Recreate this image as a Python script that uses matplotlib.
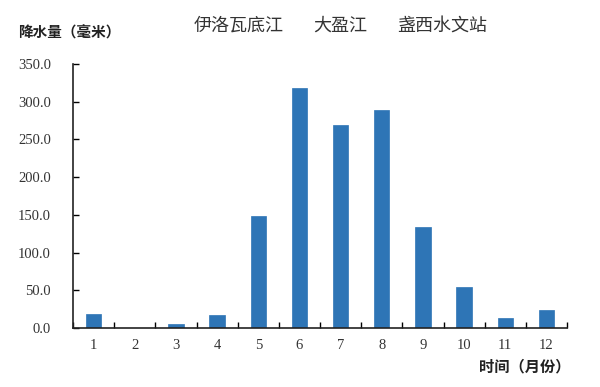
import matplotlib
matplotlib.use("Agg")
import matplotlib.pyplot as plt
import numpy as np

months = ["1", "2", "3", "4", "5", "6", "7", "8", "9", "10", "11", "12"]
rain = [19, 0, 5, 17, 149, 318, 269, 289, 134, 54, 13, 24]
yticks = [0, 50, 100, 150, 200, 250, 300, 350]
title_parts = ["伊洛瓦底江", "大盈江", "盏西水文站"]

cjk = ['Noto Sans CJK SC', 'DejaVu Sans']
serif = 'Liberation Serif'

fig = plt.figure(figsize=(6, 3.87), dpi=100)
ax = fig.add_axes([0.1217, 0.1525, 0.8233, 0.6821])
x = np.arange(len(months))
ax.bar(x, rain, width=0.37, color='#2E75B6', edgecolor='#2E75B6', linewidth=0.5)
ax.set_xlim(-0.5, len(months) - 0.5)
ax.set_ylim(0, 350)
ax.set_yticks(yticks)
ax.set_yticklabels([f"{v:.1f}" for v in yticks], fontfamily=serif, fontsize=10.5, color='#333333')
ax.set_xticks(x)
ax.set_xticklabels(months, fontfamily=serif, fontsize=10.5, color='#333333')
ax.set_xticks(np.arange(-0.5, len(months)), minor=True)
ax.tick_params(axis='x', which='major', length=0, pad=8)
ax.tick_params(axis='x', which='minor', length=4, direction='in', width=1)
ax.tick_params(axis='y', length=4, direction='in', width=1, pad=16)
for s in ['top', 'right']:
    ax.spines[s].set_visible(False)
for s in ['left', 'bottom']:
    ax.spines[s].set_linewidth(1.2)
    ax.spines[s].set_color('#222222')

fig.text(0.03, 0.915, "降水量（毫米）", family=cjk, fontsize=10.5, weight='bold', color='#222222', va='center')
title_x = [0.322, 0.522, 0.662]
for tx, t in zip(title_x, title_parts):
    fig.text(tx, 0.933, t, family=cjk, fontsize=13, color='#333333', va='center', ha='left')
fig.text(0.95, 0.052, "时间（月份）", family=cjk, fontsize=11, weight='bold', color='#222222', va='center', ha='right')

fig.savefig("out.png", dpi=100)
